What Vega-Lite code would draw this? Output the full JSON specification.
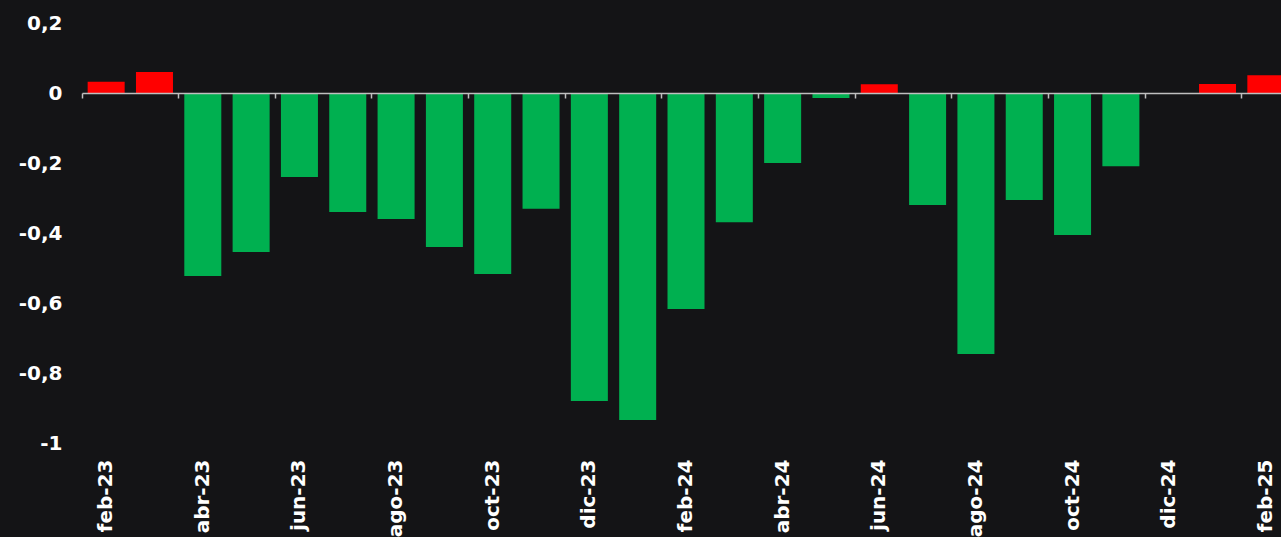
{
  "$schema": "https://vega.github.io/schema/vega-lite/v6.json",
  "autosize": {"type": "none"},
  "padding": {"left": 82, "top": 23, "right": 0, "bottom": 94},
  "width": 1199,
  "height": 420,
  "background": "#141416",
  "config": {"view": {"stroke": null}, "font": "DejaVu Sans"},
  "data": {"values": [
    {"mes": "feb-23", "valor": 0.032},
    {"mes": "mar-23", "valor": 0.06},
    {"mes": "abr-23", "valor": -0.523},
    {"mes": "may-23", "valor": -0.454},
    {"mes": "jun-23", "valor": -0.24},
    {"mes": "jul-23", "valor": -0.34},
    {"mes": "ago-23", "valor": -0.36},
    {"mes": "sep-23", "valor": -0.44},
    {"mes": "oct-23", "valor": -0.517},
    {"mes": "nov-23", "valor": -0.331},
    {"mes": "dic-23", "valor": -0.88},
    {"mes": "ene-24", "valor": -0.934},
    {"mes": "feb-24", "valor": -0.617},
    {"mes": "mar-24", "valor": -0.369},
    {"mes": "abr-24", "valor": -0.2},
    {"mes": "may-24", "valor": -0.014},
    {"mes": "jun-24", "valor": 0.025},
    {"mes": "jul-24", "valor": -0.32},
    {"mes": "ago-24", "valor": -0.746},
    {"mes": "sep-24", "valor": -0.306},
    {"mes": "oct-24", "valor": -0.406},
    {"mes": "nov-24", "valor": -0.209},
    {"mes": "dic-24", "valor": 0},
    {"mes": "ene-25", "valor": 0.026},
    {"mes": "feb-25", "valor": 0.051}
  ]},
  "resolve": {"axis": {"x": "independent"}},
  "layer": [
    {
      "mark": {"type": "bar", "width": {"band": 0.766}},
      "encoding": {
        "x": {
          "field": "mes", "type": "nominal", "sort": null,
          "scale": {"paddingInner": 0, "paddingOuter": 0, "range": [0, 1208]},
          "axis": {
            "title": null, "domain": false, "ticks": false,
            "values": ["feb-23","abr-23","jun-23","ago-23","oct-23","dic-23","feb-24","abr-24","jun-24","ago-24","oct-24","dic-24","feb-25"],
            "labelAngle": -90, "labelAlign": "right", "labelBaseline": "middle",
            "labelPadding": 16, "labelColor": "#ffffff", "labelFont": "DejaVu Sans",
            "labelFontSize": 20, "labelFontWeight": "bold", "labelOverlap": false, "labelBound": false, "labelFlush": false
          }
        },
        "y": {
          "field": "valor", "type": "quantitative",
          "scale": {"domain": [-1, 0.2], "nice": false, "zero": false},
          "axis": {
            "title": null, "domain": false, "ticks": false, "grid": false,
            "values": [-1, -0.8, -0.6, -0.4, -0.2, 0, 0.2],
            "labelExpr": "replace(toString(datum.value), '.', ',')",
            "labelPadding": 20, "labelColor": "#ffffff", "labelFont": "DejaVu Sans",
            "labelFontSize": 20, "labelFontWeight": "bold", "labelBound": false, "labelFlush": false
          }
        },
        "color": {
          "condition": {"test": "datum.valor > 0", "value": "#FF0000"},
          "value": "#00B050"
        }
      }
    },
    {
      "mark": {"type": "bar", "opacity": 0},
      "encoding": {
        "x": {
          "field": "mes", "type": "nominal", "sort": null,
          "axis": {
            "title": null, "orient": "bottom", "offset": -350, "zindex": 1,
            "domain": true, "domainColor": "#bfbfbf", "domainWidth": 1.5,
            "ticks": true, "tickColor": "#bfbfbf", "tickWidth": 1.5, "tickSize": 5,
            "bandPosition": 0, "labels": false,
            "values": ["feb-23","abr-23","jun-23","ago-23","oct-23","dic-23","feb-24","abr-24","jun-24","ago-24","oct-24","dic-24","feb-25"]
          }
        },
        "y": {"datum": 0, "type": "quantitative"}
      }
    }
  ]
}
